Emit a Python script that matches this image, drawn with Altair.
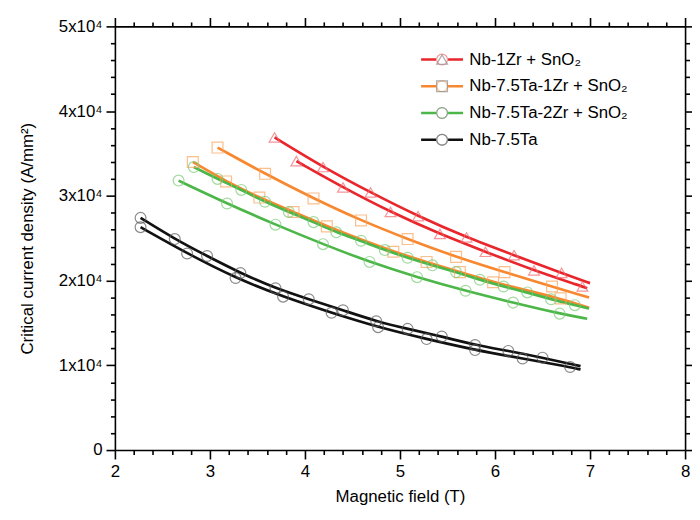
import altair as alt
import pandas as pd

SERIES = ["Nb-1Zr + SnO₂", "Nb-7.5Ta-1Zr + SnO₂", "Nb-7.5Ta-2Zr + SnO₂", "Nb-7.5Ta"]
LINE_COLORS = ["#e8262c", "#f7882f", "#4cb748", "#111111"]
MARKER_COLORS = ["#f26a70", "#f9a55c", "#7ccb78", "#5a5a5a"]
SHAPES = ["triangle-up", "square", "circle", "circle"]

# ---- measured points (two samples per alloy) and end of fitted curve ----
RED_A_X = [3.68, 4.19, 4.69, 5.19, 5.70, 6.20, 6.70]
RED_A_Y = [36900, 33400, 30400, 27600, 25100, 23000, 20900]
RED_A_END = (7.00, 19700)
RED_B_X = [3.91, 4.40, 4.90, 5.42, 5.90, 6.41, 6.92]
RED_B_Y = [34100, 31000, 28100, 25500, 23400, 21200, 19300]
RED_B_END = (6.97, 19100)

ORG_A_X = [3.08, 3.58, 4.09, 4.59, 5.08, 5.59, 6.10, 6.60]
ORG_A_Y = [35700, 32600, 29700, 27100, 24900, 22800, 21000, 19300]
ORG_A_END = (6.99, 18000)
ORG_B_X = [2.82, 3.17, 3.52, 3.88, 4.23, 4.93, 5.28, 5.63, 5.98, 6.69]
ORG_B_Y = [34000, 31700, 29800, 28100, 26400, 23400, 22200, 21000, 19800, 17900]
ORG_B_END = (6.99, 16800)

GRN_A_X = [2.83, 3.08, 3.33, 3.58, 3.83, 4.09, 4.33, 4.59, 4.84, 5.08, 5.34,
           5.59, 5.84, 6.09, 6.34, 6.59, 6.84]
GRN_A_Y = [33400, 32000, 30700, 29300, 28100, 26900, 25700, 24700, 23600, 22700,
           21800, 21000, 20100, 19300, 18600, 17800, 17100]
GRN_A_END = (6.99, 16700)
GRN_B_X = [2.67, 3.18, 3.69, 4.19, 4.68, 5.18, 5.69, 6.19, 6.68]
GRN_B_Y = [31800, 29100, 26600, 24300, 22200, 20400, 18800, 17400, 16100]
GRN_B_END = (6.97, 15500)

BLK_A_X = [2.27, 2.63, 2.97, 3.32, 3.69, 4.04, 4.40, 4.75, 5.08, 5.44, 5.79, 6.14, 6.50]
BLK_A_Y = [27400, 24900, 22900, 20900, 19100, 17800, 16500, 15200, 14300, 13400,
           12400, 11700, 10900]
BLK_A_END = (6.90, 9900)
BLK_B_X = [2.27, 2.76, 3.27, 3.77, 4.28, 4.77, 5.28, 5.79, 6.29, 6.79]
BLK_B_Y = [26300, 23200, 20300, 18100, 16200, 14500, 13100, 11800, 10800, 9800]
BLK_B_END = (6.90, 9500)

X_MAJOR = [2, 3, 4, 5, 6, 7, 8]
Y_MAJOR = [0, 10000, 20000, 30000, 40000, 50000]
X_MINOR = [round(2 + 0.2 * i, 1) for i in range(31) if i % 5 != 0]
Y_MINOR = [2000 * i for i in range(26) if i % 5 != 0]

CURVES = [
    (SERIES[0], "a", RED_A_X, RED_A_Y, RED_A_END),
    (SERIES[0], "b", RED_B_X, RED_B_Y, RED_B_END),
    (SERIES[1], "a", ORG_A_X, ORG_A_Y, ORG_A_END),
    (SERIES[1], "b", ORG_B_X, ORG_B_Y, ORG_B_END),
    (SERIES[2], "a", GRN_A_X, GRN_A_Y, GRN_A_END),
    (SERIES[2], "b", GRN_B_X, GRN_B_Y, GRN_B_END),
    (SERIES[3], "a", BLK_A_X, BLK_A_Y, BLK_A_END),
    (SERIES[3], "b", BLK_B_X, BLK_B_Y, BLK_B_END),
]

pts, lns = [], []
for s, c, xs, ys, end in CURVES:
    for x, y in zip(xs, ys):
        pts.append({"series": s, "curve": s + c, "x": x, "y": y})
        lns.append({"series": s, "curve": s + c, "x": x, "y": y})
    lns.append({"series": s, "curve": s + c, "x": end[0], "y": end[1]})
df_pts = pd.DataFrame(pts)
df_lns = pd.DataFrame(lns)

FONT = "Liberation Sans"
x_scale = alt.Scale(domain=[2, 8], nice=False, zero=False)
y_scale = alt.Scale(domain=[0, 50000], nice=False, zero=False)

common_axis = dict(grid=False, tickColor="black", tickWidth=1.6, domainColor="black",
                   domainWidth=1.6)


def major(orient, labels, title=None, **kw):
    vals = X_MAJOR if orient in ("top", "bottom") else Y_MAJOR
    return alt.Axis(orient=orient, values=vals, tickSize=9, labels=labels, domain=True,
                    title=title, **common_axis, **kw)


def minor(orient):
    vals = X_MINOR if orient in ("top", "bottom") else Y_MINOR
    return alt.Axis(orient=orient, values=vals, tickSize=4.5, labels=False, domain=False,
                    title=None, **common_axis)


x_bottom = major("bottom", True, "Magnetic field (T)", labelFontSize=17, labelFont=FONT,
                 labelColor="black", labelPadding=5, labelFlush=False,
                 titleFontSize=17, titleFont=FONT, titleFontWeight="normal",
                 titleColor="black", titlePadding=9)
y_left = major("left", True, "Critical current density (A/mm²)", labelFontSize=17,
               labelFont=FONT, labelColor="black", labelPadding=4,
               labelExpr="datum.value == 0 ? '0' : format(datum.value / 10000, 'd') + 'x10⁴'",
               titleFontSize=17, titleFont=FONT, titleFontWeight="normal",
               titleColor="black", titlePadding=22)

LEG = dict(orient="none", legendX=322, legendY=25, title=None, labelFont=FONT,
           labelFontSize=17, labelOffset=19, rowPadding=9, padding=0, labelLimit=400,
           labelColor="black")

leg_lines = alt.Legend(symbolType="M-8,0H-2.3M2.3,0H8", symbolSize=28,
                       symbolStrokeWidth=2.6, **LEG)
leg_marks = alt.Legend(symbolSize=120, symbolStrokeWidth=1.2, labelOpacity=0, **LEG)

lines = alt.Chart(df_lns).mark_line(interpolate="basis", strokeWidth=2.7).encode(
    x=alt.X("x:Q", scale=x_scale, axis=x_bottom),
    y=alt.Y("y:Q", scale=y_scale, axis=y_left),
    stroke=alt.Stroke("series:N", sort=SERIES, scale=alt.Scale(range=LINE_COLORS),
                      legend=leg_lines),
    detail="curve:N",
)

points = alt.Chart(df_pts).mark_point(filled=False, size=120, strokeWidth=1.2).encode(
    x=alt.X("x:Q", scale=x_scale, axis=minor("bottom")),
    y=alt.Y("y:Q", scale=y_scale, axis=minor("left")),
    color=alt.Color("series:N", sort=SERIES, scale=alt.Scale(range=MARKER_COLORS),
                    legend=leg_marks),
    shape=alt.Shape("series:N", sort=SERIES, scale=alt.Scale(range=SHAPES),
                    legend=leg_marks),
)

ghost_major = alt.Chart(df_pts).mark_point(opacity=0).encode(
    x=alt.X("x:Q", scale=x_scale, axis=major("top", False)),
    y=alt.Y("y:Q", scale=y_scale, axis=major("right", False)),
)
ghost_minor = alt.Chart(df_pts).mark_point(opacity=0).encode(
    x=alt.X("x:Q", scale=x_scale, axis=minor("top")),
    y=alt.Y("y:Q", scale=y_scale, axis=minor("right")),
)

chart = alt.layer(lines, points, ghost_major, ghost_minor).resolve_axis(
    x="independent", y="independent"
).properties(
    width=576, height=428,
    padding={"left": 108, "top": 16, "right": 7, "bottom": 60},
    autosize=alt.AutoSizeParams(type="none"),
).configure_view(stroke=None)

chart.save("out.html", embed_options={"renderer": "svg", "actions": False})
